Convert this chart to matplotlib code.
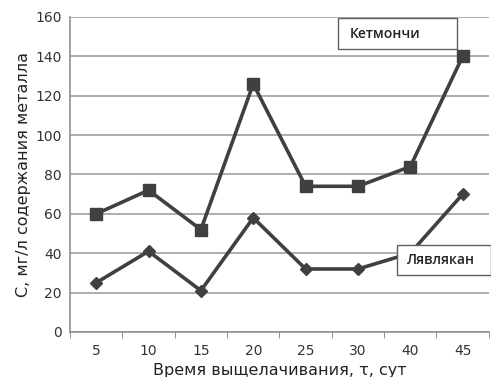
import matplotlib.pyplot as plt
from matplotlib.patches import Rectangle
import numpy as np

# данные
days = ['5', '10', '15', '20', '25', '30', '40', '45']
ketmonchi = [60, 72, 52, 126, 74, 74, 84, 140]
lyavlyakan = [25, 41, 21, 58, 32, 32, 40, 70]

plt.rcParams['font.family'] = ['DejaVu Sans']

fig = plt.figure(figsize=(4.91, 3.77), dpi=100)
ax = fig.add_axes([0.1426, 0.1194, 0.853, 0.8356])

x = np.arange(len(days))
line_col = '#404040'
ax.plot(x, ketmonchi, color=line_col, lw=2.6, marker='s', ms=8.5, zorder=3)
ax.plot(x, lyavlyakan, color=line_col, lw=2.6, marker='D', ms=6.5, zorder=3)

ax.set_ylim(0, 160)
ax.set_yticks(range(0, 161, 20))
ax.set_xlim(-0.5, len(days) - 0.5)
ax.set_xticks(x)
ax.set_xticklabels(days)
ax.set_xticks(np.arange(-0.5, len(days)), minor=True)
ax.tick_params(axis='x', which='major', length=0, pad=9, labelsize=10, colors='#333333')
ax.tick_params(axis='x', which='minor', length=4, color='#808080', direction='out')
ax.tick_params(axis='y', length=0, pad=6, labelsize=10, colors='#333333')

ax.grid(axis='y', color='#a0a0a0', lw=1.2)
ax.set_axisbelow(True)
for s in ['top', 'right']:
    ax.spines[s].set_visible(False)
for s in ['left', 'bottom']:
    ax.spines[s].set_color('#909090')
    ax.spines[s].set_linewidth(1.2)

ax.set_ylabel('С, мг/л содержания металла', fontsize=11.5, color='#222222', labelpad=3)
ax.set_xlabel('Время выщелачивания, τ, сут', fontsize=11.5, color='#222222', labelpad=3)

# подписи рядов в рамках
ax.add_patch(Rectangle((4.62, 143.8), 2.27, 15.7, fc='white', ec='#606060', lw=1, zorder=2))
ax.text(4.85, 151.6, 'Кетмончи', fontsize=10, family='Open Sans', fontweight='semibold',
        color='#222222', ha='left', va='center', zorder=5)
ax.add_patch(Rectangle((5.74, 29.0), 1.8, 15.3, fc='white', ec='#606060', lw=1,
                       zorder=4, clip_on=False))
ax.text(5.94, 36.6, 'Лявлякан', fontsize=10, family='Open Sans', fontweight='semibold',
        color='#222222', ha='left', va='center', zorder=5)

fig.savefig('out.png', dpi=100)
